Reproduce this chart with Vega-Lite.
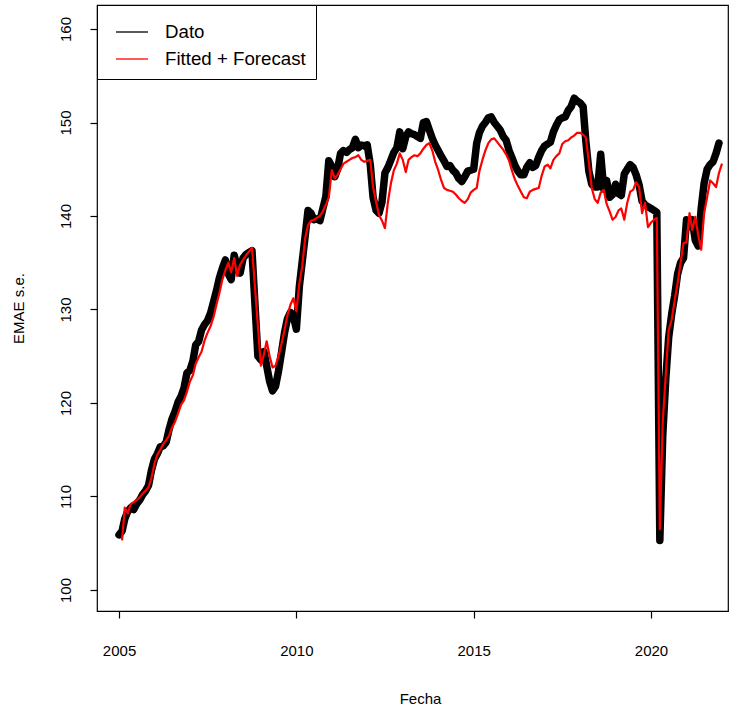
{
"$schema": "https://vega.github.io/schema/vega-lite/v6.json",
"width": 631, "height": 606,
"autosize": {"type": "none"},
"padding": {"left": 97, "top": 5, "right": 28, "bottom": 102},
"background": "white",
"config": {
 "font": "Liberation Sans",
 "view": {"stroke": "black", "strokeWidth": 1.2},
 "axisX": {"domain": false, "grid": false, "tickColor": "black", "tickSize": 7, "tickWidth": 1.2, "labelFontSize": 15, "labelColor": "black", "labelPadding": 25, "labelFlush": false, "labelOverlap": false, "titleFontSize": 15, "titleFontWeight": "normal", "titleColor": "black", "titleX": 323, "titleY": 92, "titleAlign": "center", "titleBaseline": "alphabetic"},
 "axisY": {"domain": false, "grid": false, "tickColor": "black", "tickSize": 7, "tickWidth": 1.2, "labelFontSize": 15, "labelColor": "black", "labelAngle": -90, "labelAlign": "center", "labelBaseline": "alphabetic", "labelPadding": 20, "labelOverlap": false, "titleFontSize": 15, "titleFontWeight": "normal", "titleColor": "black", "titleX": -74, "titleY": 303, "titleAngle": -90, "titleAlign": "center", "titleBaseline": "alphabetic"}
},
"data": {"values": [
{"f":"2005-01","d":105.9,"p":null},{"f":"2005-02","d":106.3,"p":105.3},{"f":"2005-03","d":107.6,"p":108.8},{"f":"2005-04","d":108.4,"p":108.2},{"f":"2005-05","d":108.8,"p":109.2},{"f":"2005-06","d":108.6,"p":109.4},{"f":"2005-07","d":109.2,"p":109.6},{"f":"2005-08","d":109.6,"p":109.9},{"f":"2005-09","d":110.2,"p":110.3},{"f":"2005-10","d":110.6,"p":110.6},{"f":"2005-11","d":111.2,"p":111.0},{"f":"2005-12","d":112.8,"p":112.0},
{"f":"2006-01","d":114.0,"p":113.5},{"f":"2006-02","d":114.6,"p":114.5},{"f":"2006-03","d":115.3,"p":115.0},{"f":"2006-04","d":115.4,"p":115.6},{"f":"2006-05","d":115.8,"p":116.0},{"f":"2006-06","d":117.2,"p":116.5},{"f":"2006-07","d":118.3,"p":117.4},{"f":"2006-08","d":119.1,"p":118.0},{"f":"2006-09","d":120.1,"p":118.9},{"f":"2006-10","d":120.7,"p":119.8},{"f":"2006-11","d":121.6,"p":120.3},{"f":"2006-12","d":123.2,"p":121.2},
{"f":"2007-01","d":123.5,"p":122.3},{"f":"2007-02","d":124.5,"p":123.0},{"f":"2007-03","d":126.2,"p":124.2},{"f":"2007-04","d":126.6,"p":124.9},{"f":"2007-05","d":127.8,"p":125.5},{"f":"2007-06","d":128.4,"p":126.7},{"f":"2007-07","d":128.8,"p":127.5},{"f":"2007-08","d":129.6,"p":128.2},{"f":"2007-09","d":130.8,"p":129.2},{"f":"2007-10","d":132.0,"p":130.5},{"f":"2007-11","d":133.4,"p":131.8},{"f":"2007-12","d":134.4,"p":133.2},
{"f":"2008-01","d":135.3,"p":134.2},{"f":"2008-02","d":133.8,"p":135.0},{"f":"2008-03","d":133.2,"p":134.0},{"f":"2008-04","d":135.8,"p":135.5},{"f":"2008-05","d":134.6,"p":133.6},{"f":"2008-06","d":133.9,"p":134.8},{"f":"2008-07","d":135.5,"p":135.3},{"f":"2008-08","d":135.9,"p":135.8},{"f":"2008-09","d":136.1,"p":136.2},{"f":"2008-10","d":136.3,"p":136.6},{"f":"2008-11","d":130.5,"p":132.4},{"f":"2008-12","d":125.0,"p":128.2},
{"f":"2009-01","d":124.6,"p":124.0},{"f":"2009-02","d":125.5,"p":125.2},{"f":"2009-03","d":124.0,"p":126.6},{"f":"2009-04","d":122.3,"p":125.0},{"f":"2009-05","d":121.3,"p":123.8},{"f":"2009-06","d":121.8,"p":124.0},{"f":"2009-07","d":123.4,"p":125.0},{"f":"2009-08","d":125.4,"p":126.3},{"f":"2009-09","d":127.5,"p":127.8},{"f":"2009-10","d":129.0,"p":129.4},{"f":"2009-11","d":129.7,"p":130.5},{"f":"2009-12","d":129.3,"p":131.2},
{"f":"2010-01","d":127.9,"p":129.8},{"f":"2010-02","d":132.5,"p":132.8},{"f":"2010-03","d":135.0,"p":134.5},{"f":"2010-04","d":137.8,"p":137.6},{"f":"2010-05","d":140.6,"p":139.0},{"f":"2010-06","d":140.3,"p":139.5},{"f":"2010-07","d":139.6,"p":139.6},{"f":"2010-08","d":139.7,"p":139.8},{"f":"2010-09","d":139.5,"p":140.0},{"f":"2010-10","d":140.8,"p":140.5},{"f":"2010-11","d":142.1,"p":141.2},{"f":"2010-12","d":145.9,"p":142.0},
{"f":"2011-01","d":145.3,"p":144.9},{"f":"2011-02","d":144.2,"p":144.0},{"f":"2011-03","d":145.0,"p":144.4},{"f":"2011-04","d":146.7,"p":145.0},{"f":"2011-05","d":147.0,"p":145.6},{"f":"2011-06","d":146.8,"p":145.8},{"f":"2011-07","d":147.1,"p":146.0},{"f":"2011-08","d":147.3,"p":146.2},{"f":"2011-09","d":148.2,"p":146.3},{"f":"2011-10","d":147.3,"p":146.5},{"f":"2011-11","d":147.6,"p":146.0},{"f":"2011-12","d":147.5,"p":145.8},
{"f":"2012-01","d":147.6,"p":145.9},{"f":"2012-02","d":145.5,"p":146.0},{"f":"2012-03","d":142.0,"p":143.1},{"f":"2012-04","d":140.6,"p":141.5},{"f":"2012-05","d":140.3,"p":140.1},{"f":"2012-06","d":141.5,"p":139.5},{"f":"2012-07","d":144.6,"p":138.7},{"f":"2012-08","d":145.2,"p":141.5},{"f":"2012-09","d":146.0,"p":143.5},{"f":"2012-10","d":146.8,"p":144.9},{"f":"2012-11","d":147.3,"p":145.6},{"f":"2012-12","d":149.0,"p":146.7},
{"f":"2013-01","d":147.2,"p":146.0},{"f":"2013-02","d":148.5,"p":144.7},{"f":"2013-03","d":149.0,"p":146.0},{"f":"2013-04","d":148.8,"p":146.3},{"f":"2013-05","d":148.7,"p":146.5},{"f":"2013-06","d":148.5,"p":146.4},{"f":"2013-07","d":148.3,"p":146.7},{"f":"2013-08","d":150.0,"p":147.2},{"f":"2013-09","d":150.1,"p":147.6},{"f":"2013-10","d":149.2,"p":147.8},{"f":"2013-11","d":148.3,"p":147.0},{"f":"2013-12","d":147.6,"p":145.8},
{"f":"2014-01","d":147.0,"p":144.9},{"f":"2014-02","d":146.4,"p":143.8},{"f":"2014-03","d":145.9,"p":143.0},{"f":"2014-04","d":145.3,"p":142.8},{"f":"2014-05","d":145.4,"p":142.7},{"f":"2014-06","d":144.9,"p":142.6},{"f":"2014-07","d":144.6,"p":142.3},{"f":"2014-08","d":144.0,"p":141.9},{"f":"2014-09","d":143.7,"p":141.6},{"f":"2014-10","d":144.2,"p":141.4},{"f":"2014-11","d":144.8,"p":141.8},{"f":"2014-12","d":144.9,"p":142.5},
{"f":"2015-01","d":145.0,"p":142.8},{"f":"2015-02","d":147.8,"p":143.0},{"f":"2015-03","d":148.9,"p":144.8},{"f":"2015-04","d":149.6,"p":146.0},{"f":"2015-05","d":150.0,"p":147.0},{"f":"2015-06","d":150.5,"p":147.8},{"f":"2015-07","d":150.6,"p":148.2},{"f":"2015-08","d":150.0,"p":148.3},{"f":"2015-09","d":149.6,"p":147.9},{"f":"2015-10","d":149.2,"p":147.5},{"f":"2015-11","d":148.5,"p":147.1},{"f":"2015-12","d":148.1,"p":146.6},
{"f":"2016-01","d":147.0,"p":145.9},{"f":"2016-02","d":146.2,"p":144.8},{"f":"2016-03","d":145.4,"p":143.9},{"f":"2016-04","d":144.8,"p":143.2},{"f":"2016-05","d":144.4,"p":142.6},{"f":"2016-06","d":144.4,"p":142.0},{"f":"2016-07","d":145.2,"p":141.9},{"f":"2016-08","d":145.7,"p":142.6},{"f":"2016-09","d":145.2,"p":142.8},{"f":"2016-10","d":145.4,"p":142.9},{"f":"2016-11","d":146.3,"p":143.0},{"f":"2016-12","d":147.0,"p":144.3},
{"f":"2017-01","d":147.5,"p":145.3},{"f":"2017-02","d":147.7,"p":145.5},{"f":"2017-03","d":147.9,"p":145.1},{"f":"2017-04","d":149.0,"p":146.0},{"f":"2017-05","d":149.7,"p":146.4},{"f":"2017-06","d":150.3,"p":146.7},{"f":"2017-07","d":150.5,"p":147.7},{"f":"2017-08","d":150.6,"p":148.0},{"f":"2017-09","d":151.3,"p":148.1},{"f":"2017-10","d":151.7,"p":148.4},{"f":"2017-11","d":152.6,"p":148.6},{"f":"2017-12","d":152.3,"p":148.9},
{"f":"2018-01","d":152.1,"p":148.9},{"f":"2018-02","d":151.7,"p":148.7},{"f":"2018-03","d":148.0,"p":148.4},{"f":"2018-04","d":144.8,"p":145.8},{"f":"2018-05","d":143.4,"p":143.0},{"f":"2018-06","d":143.1,"p":141.8},{"f":"2018-07","d":143.1,"p":141.4},{"f":"2018-08","d":146.6,"p":142.5},{"f":"2018-09","d":142.9,"p":142.8},{"f":"2018-10","d":143.8,"p":141.3},{"f":"2018-11","d":142.0,"p":140.5},{"f":"2018-12","d":142.3,"p":139.6},
{"f":"2019-01","d":143.4,"p":139.9},{"f":"2019-02","d":142.4,"p":140.6},{"f":"2019-03","d":142.2,"p":140.8},{"f":"2019-04","d":144.5,"p":139.6},{"f":"2019-05","d":145.0,"p":141.4},{"f":"2019-06","d":145.5,"p":142.6},{"f":"2019-07","d":145.2,"p":142.8},{"f":"2019-08","d":144.4,"p":143.6},{"f":"2019-09","d":143.3,"p":143.1},{"f":"2019-10","d":141.6,"p":140.3},{"f":"2019-11","d":141.2,"p":141.4},{"f":"2019-12","d":141.0,"p":138.8},
{"f":"2020-01","d":140.8,"p":139.3},{"f":"2020-02","d":140.6,"p":139.6},{"f":"2020-03","d":140.4,"p":139.8},{"f":"2020-04","d":105.3,"p":106.5},{"f":"2020-05","d":116.5,"p":118.0},{"f":"2020-06","d":122.5,"p":123.0},{"f":"2020-07","d":127.0,"p":127.8},{"f":"2020-08","d":129.5,"p":128.9},{"f":"2020-09","d":131.5,"p":131.0},{"f":"2020-10","d":133.8,"p":132.8},{"f":"2020-11","d":135.0,"p":135.0},{"f":"2020-12","d":135.5,"p":137.1},
{"f":"2021-01","d":139.6,"p":137.2},{"f":"2021-02","d":138.9,"p":140.3},{"f":"2021-03","d":139.6,"p":138.5},{"f":"2021-04","d":137.4,"p":139.9},{"f":"2021-05","d":136.8,"p":138.0},{"f":"2021-06","d":140.8,"p":136.4},{"f":"2021-07","d":143.5,"p":140.3},{"f":"2021-08","d":145.0,"p":142.0},{"f":"2021-09","d":145.5,"p":143.8},{"f":"2021-10","d":145.8,"p":143.5},{"f":"2021-11","d":146.7,"p":143.1},{"f":"2021-12","d":147.8,"p":144.6},
{"f":"2022-01","d":null,"p":145.6}
]},
"encoding": {
 "x": {"field": "f", "type": "temporal", "title": "Fecha",
  "scale": {"type": "utc", "domain": [{"year": 2004, "month": 5, "date": 19, "utc": true}, {"year": 2022, "month": 3, "date": 4, "utc": true}]},
  "axis": {"values": [{"year": 2005, "utc": true}, {"year": 2010, "utc": true}, {"year": 2015, "utc": true}, {"year": 2020, "utc": true}], "format": "%Y", "formatType": "utc"}}
},
"layer": [
 {"mark": {"type": "line", "strokeWidth": 7.5, "strokeCap": "round", "strokeJoin": "round"},
  "encoding": {
   "y": {"field": "d", "type": "quantitative", "title": "EMAE s.e.", "scale": {"domain": [97.75, 162.57], "nice": false, "zero": false}, "axis": {"values": [100, 110, 120, 130, 140, 150, 160]}},
   "color": {"datum": "Dato", "scale": {"domain": ["Dato", "Fitted + Forecast"], "range": ["#000000", "#FF0000"]},
    "legend": {"orient": "none", "legendX": 0, "legendY": 0, "title": null, "symbolType": "stroke", "symbolSize": 1024, "symbolStrokeWidth": 1.3, "symbolOffset": 8, "labelFontSize": 18.7, "labelColor": "black", "labelLimit": 300, "labelOffset": 16, "padding": 10, "rowPadding": 0, "strokeColor": "black", "fillColor": "white"}}
  }},
 {"mark": {"type": "line", "strokeWidth": 2.2, "strokeJoin": "round"},
  "encoding": {
   "y": {"field": "p", "type": "quantitative", "title": "EMAE s.e."},
   "color": {"datum": "Fitted + Forecast"}
  }}
]
}
